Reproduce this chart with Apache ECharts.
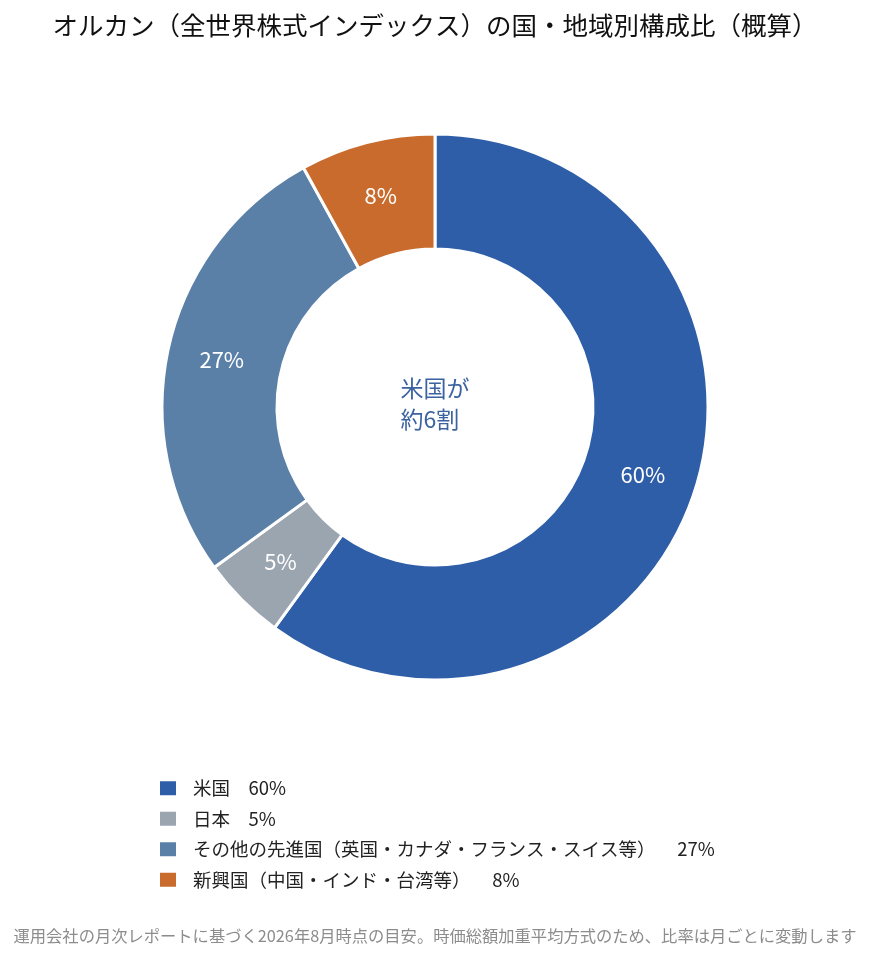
<!DOCTYPE html>
<html lang="ja">
<head>
    <meta charset="UTF-8">
    <style>
    html, body {
        margin: 0;
        padding: 0;
        background-color: #ffffff;
    }

    #chart {
        width: 870px;
        height: 961px;
    }
    </style>
    <script src="https://cdn.jsdelivr.net/npm/echarts@6/dist/echarts.min.js"></script>
</head>
<body>
    <div id="chart"></div>
    <script>
        const regions = ['米国', '日本', 'その他の先進国（英国・カナダ・フランス・スイス等）', '新興国（中国・インド・台湾等）'];
        const shares = [60, 5, 27, 8];
        const colors = ['#2e5ea8', '#9ba5b0', '#5b80a8', '#c96b2c'];

        const font = '"Noto Sans CJK JP", "Noto Sans", sans-serif';

        const pieData = regions.map((name, i) => ({
            name: name,
            value: shares[i],
            itemStyle: { color: colors[i] }
        }));

        const chart = echarts.init(document.getElementById('chart'), null, { renderer: 'canvas' });

        chart.setOption({
            backgroundColor: '#ffffff',
            animation: false,
            title: {
                text: 'オルカン（全世界株式インデックス）の国・地域別構成比（概算）',
                left: 'center',
                top: 8,
                textStyle: {
                    fontFamily: font,
                    fontSize: 25.5,
                    fontWeight: 'normal',
                    color: '#111111'
                }
            },
            legend: {
                orient: 'vertical',
                left: 153,
                top: 774,
                itemWidth: 18,
                itemHeight: 16,
                itemGap: 12,
                icon: 'rect',
                selectedMode: false,
                formatter: function (name) {
                    const i = regions.indexOf(name);
                    // closing parenthesis rows carry a wider gap in the original
                    const gap = name.endsWith('）') ? '　   ' : '　';
                    return name + gap + shares[i] + '%';
                },
                textStyle: {
                    fontFamily: font,
                    fontSize: 18.5,
                    color: '#222222',
                    padding: [0, 0, 0, 11]
                }
            },
            graphic: [
                {
                    type: 'text',
                    left: 'center',
                    top: 373,
                    style: {
                        text: '米国が\n約6割',
                        fontFamily: font,
                        fontSize: 23,
                        lineHeight: 31,
                        fill: '#3b63a0',
                        align: 'center'
                    }
                },
                {
                    type: 'text',
                    left: 'center',
                    top: 928,
                    style: {
                        text: '運用会社の月次レポートに基づく2026年8月時点の目安。時価総額加重平均方式のため、比率は月ごとに変動します',
                        fontFamily: font,
                        fontSize: 16.3,
                        fill: '#8c8c8c'
                    }
                }
            ],
            series: [
                {
                    type: 'pie',
                    center: [435, 407],
                    radius: [158, 273],
                    startAngle: 90,
                    clockwise: true,
                    data: pieData,
                    itemStyle: {
                        borderColor: '#ffffff',
                        borderWidth: 3
                    },
                    label: {
                        position: 'inside',
                        formatter: '{c}%',
                        fontFamily: font,
                        fontSize: 22,
                        color: '#ffffff'
                    },
                    labelLine: { show: false },
                    emphasis: { disabled: true }
                }
            ]
        });
    </script>
</body>
</html>
